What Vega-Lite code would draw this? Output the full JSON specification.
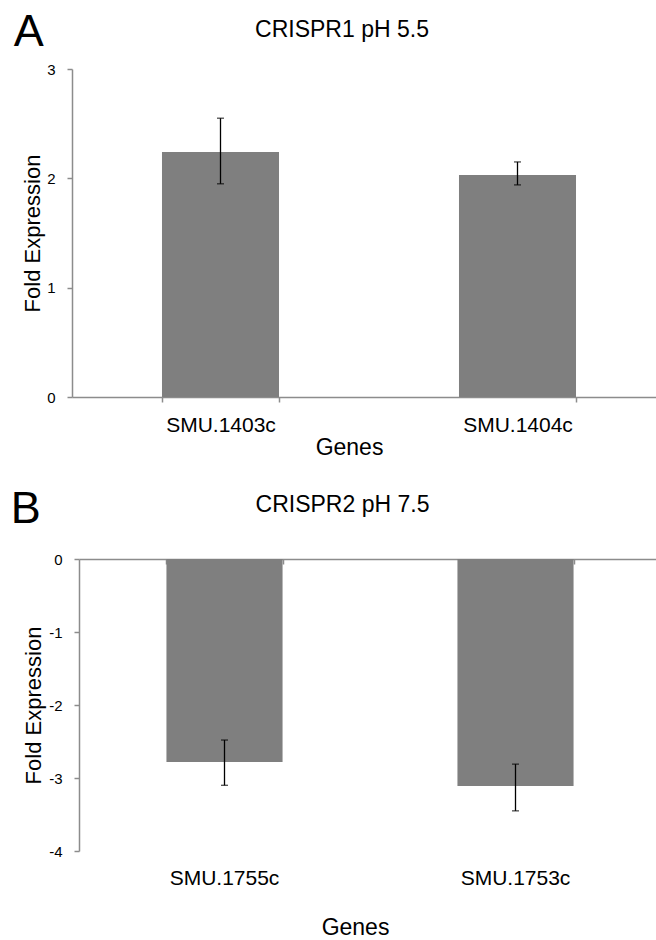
{
  "$schema": "https://vega.github.io/schema/vega-lite/v6.json",
  "padding": {"left": 10, "top": 10, "right": 0, "bottom": 0},
  "columns": 1,
  "align": "none",
  "spacing": 28,
  "config": {
    "view": {"stroke": null},
    "font": "Liberation Sans",
    "axis": {
      "grid": false,
      "domainColor": "#8c8c8c",
      "domainWidth": 1.5,
      "tickColor": "#8c8c8c",
      "tickWidth": 1.5,
      "labelColor": "#000000",
      "titleColor": "#000000",
      "titleFontWeight": "normal",
      "labelFont": "Liberation Sans",
      "titleFont": "Liberation Sans"
    },
    "title": {"fontWeight": "normal", "color": "#000000", "font": "Liberation Sans"}
  },
  "concat": [
    {
      "title": {"text": "A", "anchor": "start", "frame": "bounds", "fontSize": 45, "dx": -8, "offset": -36},
      "vconcat": [
        {
          "width": 594,
          "height": 328,
          "title": {"text": "CRISPR1 pH 5.5", "fontSize": 23, "dx": -27, "offset": 20},
          "data": {"values": [
            {"gene": "SMU.1403c", "value": 2.24, "lo": 1.95, "hi": 2.55},
            {"gene": "SMU.1404c", "value": 2.03, "lo": 1.94, "hi": 2.15}
          ]},
          "layer": [
            {
              "mark": {"type": "bar", "color": "#7f7f7f"},
              "encoding": {
                "x": {"field": "gene", "type": "nominal", "sort": null,
                  "scale": {"paddingInner": 0.606, "paddingOuter": 0.303},
                  "axis": {"title": "Genes", "labelAngle": 0, "labelFontSize": 21, "labelPadding": 12, "tickBand": "extent", "tickSize": 5, "titleFontSize": 23, "titlePadding": 1, "titleX": 277}},
                "y": {"field": "value", "type": "quantitative", "title": "Fold Expression",
                  "scale": {"domain": [0, 3], "nice": false},
                  "axis": {"values": [0, 1, 2, 3], "labelExpr": "'' + datum.value", "labelFontSize": 15, "labelPadding": 12, "tickSize": 5, "titleFontSize": 22, "titlePadding": 2}}
              }
            },
            {
              "mark": {"type": "rule", "color": "#000000", "strokeWidth": 1.3},
              "encoding": {
                "x": {"field": "gene", "type": "nominal", "sort": null},
                "y": {"field": "lo", "type": "quantitative", "title": "Fold Expression"},
                "y2": {"field": "hi"}
              }
            },
            {
              "mark": {"type": "tick", "color": "#000000", "size": 7, "thickness": 1.3},
              "encoding": {
                "x": {"field": "gene", "type": "nominal", "sort": null},
                "y": {"field": "lo", "type": "quantitative", "title": "Fold Expression"}
              }
            },
            {
              "mark": {"type": "tick", "color": "#000000", "size": 7, "thickness": 1.3},
              "encoding": {
                "x": {"field": "gene", "type": "nominal", "sort": null},
                "y": {"field": "hi", "type": "quantitative", "title": "Fold Expression"}
              }
            }
          ]
        }
      ]
    },
    {
      "title": {"text": "B", "anchor": "start", "frame": "bounds", "fontSize": 45, "dx": -12, "offset": -38},
      "vconcat": [
        {
          "width": 589,
          "height": 292,
          "title": {"text": "CRISPR2 pH 7.5", "fontSize": 23, "dx": -24, "offset": 35},
          "data": {"values": [
            {"gene": "SMU.1755c", "value": -2.78, "lo": -3.1, "hi": -2.48},
            {"gene": "SMU.1753c", "value": -3.11, "lo": -3.45, "hi": -2.81}
          ]},
          "resolve": {"axis": {"x": "independent"}},
          "layer": [
            {
              "mark": {"type": "bar", "color": "#7f7f7f"},
              "encoding": {
                "x": {"field": "gene", "type": "nominal", "sort": null,
                  "scale": {"range": [7, 589], "paddingInner": 0.601, "paddingOuter": 0.3005},
                  "axis": {"orient": "top", "title": null, "labels": false, "tickBand": "extent", "tickSize": -5}},
                "y": {"field": "value", "type": "quantitative", "title": "Fold Expression",
                  "scale": {"domain": [-4, 0], "nice": false},
                  "axis": {"values": [-4, -3, -2, -1, 0], "offset": -7, "labelExpr": "'' + datum.value", "labelFontSize": 15, "labelPadding": 12, "tickSize": 5, "titleFontSize": 22, "titlePadding": 3}}
              }
            },
            {
              "mark": {"type": "rule", "color": "#000000", "strokeWidth": 1.3},
              "encoding": {
                "x": {"field": "gene", "type": "nominal", "sort": null,
                  "axis": {"orient": "bottom", "title": "Genes", "domain": false, "ticks": false, "labelAngle": 0, "labelFontSize": 21, "labelPadding": 16, "titleFontSize": 23, "titlePadding": 28, "titleX": 283}},
                "y": {"field": "lo", "type": "quantitative", "title": "Fold Expression"},
                "y2": {"field": "hi"}
              }
            },
            {
              "mark": {"type": "tick", "color": "#000000", "size": 7, "thickness": 1.3},
              "encoding": {
                "x": {"field": "gene", "type": "nominal", "sort": null, "axis": null},
                "y": {"field": "lo", "type": "quantitative", "title": "Fold Expression"}
              }
            },
            {
              "mark": {"type": "tick", "color": "#000000", "size": 7, "thickness": 1.3},
              "encoding": {
                "x": {"field": "gene", "type": "nominal", "sort": null, "axis": null},
                "y": {"field": "hi", "type": "quantitative", "title": "Fold Expression"}
              }
            }
          ]
        }
      ]
    }
  ]
}
